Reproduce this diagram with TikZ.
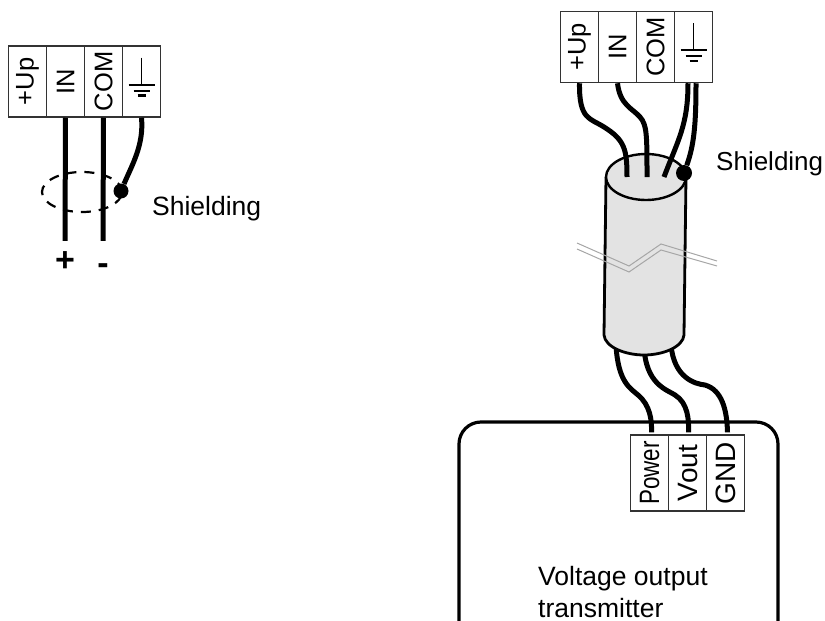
\documentclass[tikz,border=0pt]{standalone}
\usepackage{fontspec}
\setmainfont{Liberation Sans}
\usetikzlibrary{shapes.geometric}
\tikzset{
	cell/.style={draw=black!80, line width=1.5pt, minimum width=38pt, minimum height=71pt, inner sep=0pt, font=\fontsize{25.5}{25}\selectfont},
	lowcell/.style={cell, line width=1.3pt, minimum height=76pt, font=\fontsize{28}{28}\selectfont},
	wire/.style={line width=5pt, line cap=butt},
	dot/.style={circle, fill=black, inner sep=0pt, minimum size=15pt},
	caption/.style={inner sep=0pt, font=\fontsize{26.5}{30}\selectfont},
	polarity/.style={inner sep=0pt, font=\bfseries\fontsize{34}{34}\selectfont},
	groundsym/.pic={
		\draw[line width=1.5pt] (0,-24) -- (0,3);
		\draw[line width=2pt] (-13,3) -- (13,3);
		\draw[line width=2pt] (-8,9) -- (8,9);
		\draw[line width=2.4pt] (-4,14) -- (4,14);
	}
}
\begin{document}
\begin{tikzpicture}[x=1pt,y=-1pt,node distance=38pt]
	\useasboundingbox (0,0) rectangle (825,621);

	% Left terminal block
	\node (leftUp)	[cell] at (27.5,81.5)		{\rotatebox{90}{+Up}};
	\node (leftIn)	[cell, right of=leftUp]		{\rotatebox{90}{IN}};
	\node (leftCom)	[cell, right of=leftIn]		{\rotatebox{90}{COM}};
	\node (leftGnd)	[cell, right of=leftCom]	{};
	\pic at (leftGnd.center) {groundsym};

	\node (plus)	[polarity, minimum height=42pt] at (65,262)	{+};
	\node (minus)	[polarity, minimum height=56pt] at (103,269)	{-};
	\node (leftDot)	[dot] at (121,191)	{};
	\node (leftShield) [draw, ellipse, line width=2.2pt, dash pattern=on 10pt off 8pt, minimum width=80pt, minimum height=40pt, inner sep=0pt] at (82,192) {};
	\node (leftLabel) [caption, anchor=base west] at (152,215)	{Shielding};

	\draw[wire]	(leftIn.south) -- (plus.north);
	\draw[wire]	(leftCom.south) -- (minus.north);
	\draw[wire]	(leftGnd.south) .. controls (144,145) and (132,165) .. (leftDot);

	% Transmitter box, open at the bottom edge
	\coordinate (boxLeft) at (459,621);
	\coordinate (boxRight) at (778,621);
	\draw[line width=3.2pt, rounded corners=22pt] (boxLeft) |- (618,422) -| (boxRight);

	\node (power)	[lowcell] at (649.5,473)	{\rotatebox{90}{\scalebox{0.8}[1]{Power}}};
	\node (vout)	[lowcell, right of=power]	{\rotatebox{90}{Vout}};
	\node (gnd)	[lowcell, right of=vout]	{\rotatebox{90}{GND}};
	\node (boxLabel) [caption, anchor=base west] at (538,585) {Voltage output};
	\node (boxLabelTwo) [caption, anchor=base west] at (538,617) {transmitter};

	% Wires below the cable
	\coordinate (lowA) at (616,345);
	\coordinate (lowB) at (644,345);
	\coordinate (lowC) at (671,345);
	\draw[wire]	(lowA) .. controls (618,382) and (630,388) .. (638,395) .. controls (650,405) and (652,420) .. ([xshift=2pt,yshift=2pt]power.north);
	\draw[wire]	(lowB) .. controls (645,385) and (668,390) .. (675,395) .. controls (688,403) and (689,420) .. ([xshift=1pt,yshift=2pt]vout.north);
	\draw[wire]	(lowC) .. controls (674,378) and (695,384) .. (705,385) .. controls (722,390) and (727,410) .. ([xshift=2pt,yshift=2pt]gnd.north);

	% Cable
	\coordinate (cableTopLeft) at (606,177);
	\coordinate (cableTopRight) at (686,177);
	\coordinate (cableLeft) at (604,335);
	\coordinate (cableRight) at (684,335);
	\fill[black!11] (cableTopLeft) -- (cableLeft) .. controls (605,347) and (625,355) .. (644,355) .. controls (663,355) and (683,347) .. (cableRight) -- (cableTopRight) -- cycle;
	\draw[line width=2.8pt] (cableTopLeft) -- (cableLeft) .. controls (605,347) and (625,355) .. (644,355) .. controls (663,355) and (683,347) .. (cableRight) -- (cableTopRight);
	\node (cableTop) [draw, ellipse, line width=2.4pt, fill=black!11, minimum width=80pt, minimum height=46pt, inner sep=0pt] at (646,177) {};
	\draw[black!35, line width=1pt] (577,243) -- (629,266) -- (661,244) -- (717,261);
	\draw[black!35, line width=1pt] (577,249) -- (629,272) -- (661,250) -- (717,266);

	% Right terminal block
	\node (rightUp)	[cell] at (579.5,47)		{\rotatebox{90}{+Up}};
	\node (rightIn)	[cell, right of=rightUp]	{\rotatebox{90}{IN}};
	\node (rightCom)[cell, right of=rightIn]	{\rotatebox{90}{COM}};
	\node (rightGnd)[cell, right of=rightCom]	{};
	\pic at (rightGnd.center) {groundsym};

	\node (rightDot) [dot, minimum size=16pt] at (684,173) {};
	\node (rightLabel) [caption, anchor=base west, font=\fontsize{26}{30}\selectfont] at (716,170) {Shielding};

	\coordinate (topA) at (627,177);
	\coordinate (topB) at (647,177);
	\coordinate (topC) at (664,177);
	\draw[wire]	(rightUp.south) .. controls (579,120) and (590,118) .. (604,127) .. controls (625,140) and (627,150) .. (topA);
	\draw[wire]	(rightIn.south) .. controls (620,105) and (632,108) .. (640,117) .. controls (647,125) and (647,135) .. (topB);
	\draw[wire]	([xshift=-5.5pt]rightGnd.south) .. controls (688,125) and (678,140) .. (topC);
	\draw[wire]	([xshift=2.5pt]rightGnd.south) .. controls (696,125) and (694,145) .. (rightDot);
\end{tikzpicture}
\end{document}
